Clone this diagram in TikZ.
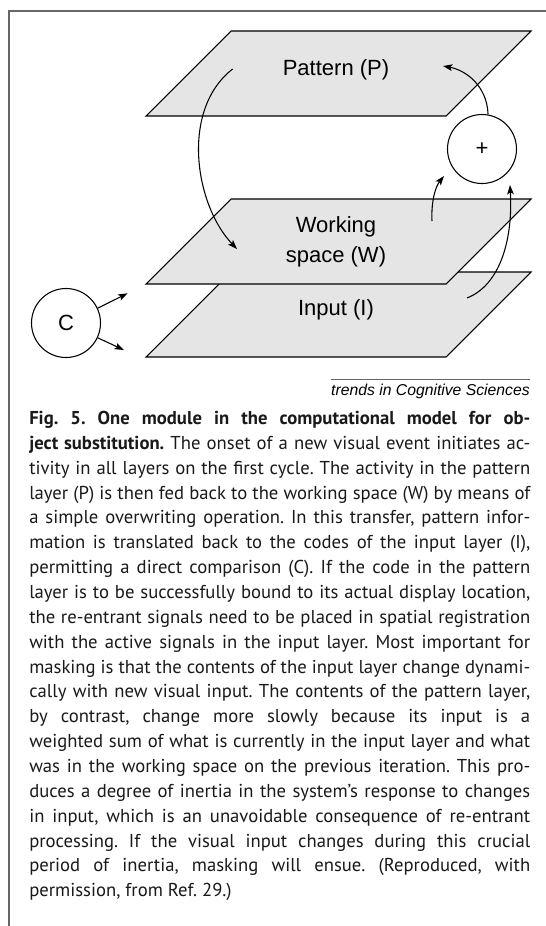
\documentclass[tikz,border=0pt]{standalone}
\usepackage{fontspec}
\setmainfont{Liberation Sans}
\newfontfamily\capfont{PT Sans}
\usetikzlibrary{arrows.meta, positioning}
\frenchspacing

\begin{document}
\begin{tikzpicture}[
    x=0.75pt, y=-0.75pt,
    font=\fontsize{16.5}{22.5}\selectfont,
    >={Stealth[length=7pt, width=5pt, inset=1.5pt]},
    % layer planes
    layer/.style={
        draw=black,
        fill=black!10,
        line width=0.8pt
    },
    % circles (+) and (C)
    unit/.style={
        circle,
        draw=black,
        fill=white,
        line width=0.8pt,
        minimum size=51.75pt,
        inner sep=0pt
    },
    flow/.style={
        ->,
        line width=0.8pt
    },
    frame/.style={
        draw=black!60,
        line width=1.4pt
    }
]
    \useasboundingbox (0,0) rectangle (546,926);

    % --- FRAME ---
    \draw[frame] (546,11) -- (9,11) -- (9,926);

    % --- LAYERS ---
    \draw[layer] (146,116) -- (446,116) -- (531,31) -- (231,31) -- cycle;
    \draw[layer] (146,357) -- (446,357) -- (531,272) -- (231,272) -- cycle;
    \draw[layer] (146,284) -- (446,284) -- (531,199) -- (231,199) -- cycle;

    \node (pattern) at (336,70) {Pattern (P)};
    \node[align=center] (working) at (336,242) {Working\\space (W)};
    \node (input) at (336,310) {Input (I)};

    % --- UNITS ---
    \node[unit] (plus) at (482,149) {+};
    \node[unit] (cmp) at (66,323) {C};

    % free ends of the arrows
    \coordinate (patOut) at (232.6,69);
    \coordinate (workIn) at (237,249);
    \coordinate (patIn) at (443,66);
    \coordinate (workOut) at (432,221);
    \coordinate (sumW) at (444,176);
    \coordinate (inpOut) at (467,298);
    \coordinate (sumI) at (510,185);
    \coordinate (cmpUp) at (127.6,293.3);
    \coordinate (cmpDown) at (124,350);

    % --- ARROWS ---
    % P -> W (overwriting)
    \draw[flow] (patOut) .. controls (180,110) and (195,205) .. (workIn);
    % + -> P
    \draw[flow] (plus.80) .. controls (487,85) and (465,70) .. (patIn);
    % W -> +, I -> +
    \draw[flow] (workOut) .. controls (431,200) and (436,186) .. (sumW);
    \draw[flow] (inpOut) .. controls (500,285) and (513,240) .. (sumI);
    % C -> W, C -> I
    \draw[flow] (cmp.25) -- (cmpUp);
    \draw[flow] (cmp.-25) -- (cmpDown);

    % --- CAPTION ---
    \draw[black!60, line width=0.5pt] (331,379) -- (530,379);
    \node[anchor=base east, inner sep=0pt, font=\fontsize{11.8}{14}\selectfont\itshape] (credit) at (530,395) {trends in Cognitive Sciences};

    \node[anchor=base west, inner sep=0pt, text=black!90] (caption) at (29,424.5) {\parbox[t]{375.75pt}{\capfont\fontsize{14}{18.64}\selectfont
\makebox[\linewidth][s]{\textbf{Fig. 5. One module in the computational model for ob-}}\\
\makebox[\linewidth][s]{\textbf{ject substitution.} The onset of a new visual event initiates ac-}\\
\makebox[\linewidth][s]{tivity in all layers on the first cycle. The activity in the pattern}\\
\makebox[\linewidth][s]{layer (P) is then fed back to the working space (W) by means of}\\
\makebox[\linewidth][s]{a simple overwriting operation. In this transfer, pattern infor-}\\
\makebox[\linewidth][s]{mation is translated back to the codes of the input layer (I),}\\
\makebox[\linewidth][s]{permitting a direct comparison (C). If the code in the pattern}\\
\makebox[\linewidth][s]{layer is to be successfully bound to its actual display location,}\\
\makebox[\linewidth][s]{the re-entrant signals need to be placed in spatial registration}\\
\makebox[\linewidth][s]{with the active signals in the input layer. Most important for}\\
\makebox[\linewidth][s]{masking is that the contents of the input layer change dynami-}\\
\makebox[\linewidth][s]{cally with new visual input. The contents of the pattern layer,}\\
\makebox[\linewidth][s]{by contrast, change more slowly because its input is a}\\
\makebox[\linewidth][s]{weighted sum of what is currently in the input layer and what}\\
\makebox[\linewidth][s]{was in the working space on the previous iteration. This pro-}\\
\makebox[\linewidth][s]{duces a degree of inertia in the system’s response to changes}\\
\makebox[\linewidth][s]{in input, which is an unavoidable consequence of re-entrant}\\
\makebox[\linewidth][s]{processing. If the visual input changes during this crucial}\\
\makebox[\linewidth][s]{period of inertia, masking will ensue. (Reproduced, with}\\
permission, from Ref. 29.)}};
\end{tikzpicture}
\end{document}
